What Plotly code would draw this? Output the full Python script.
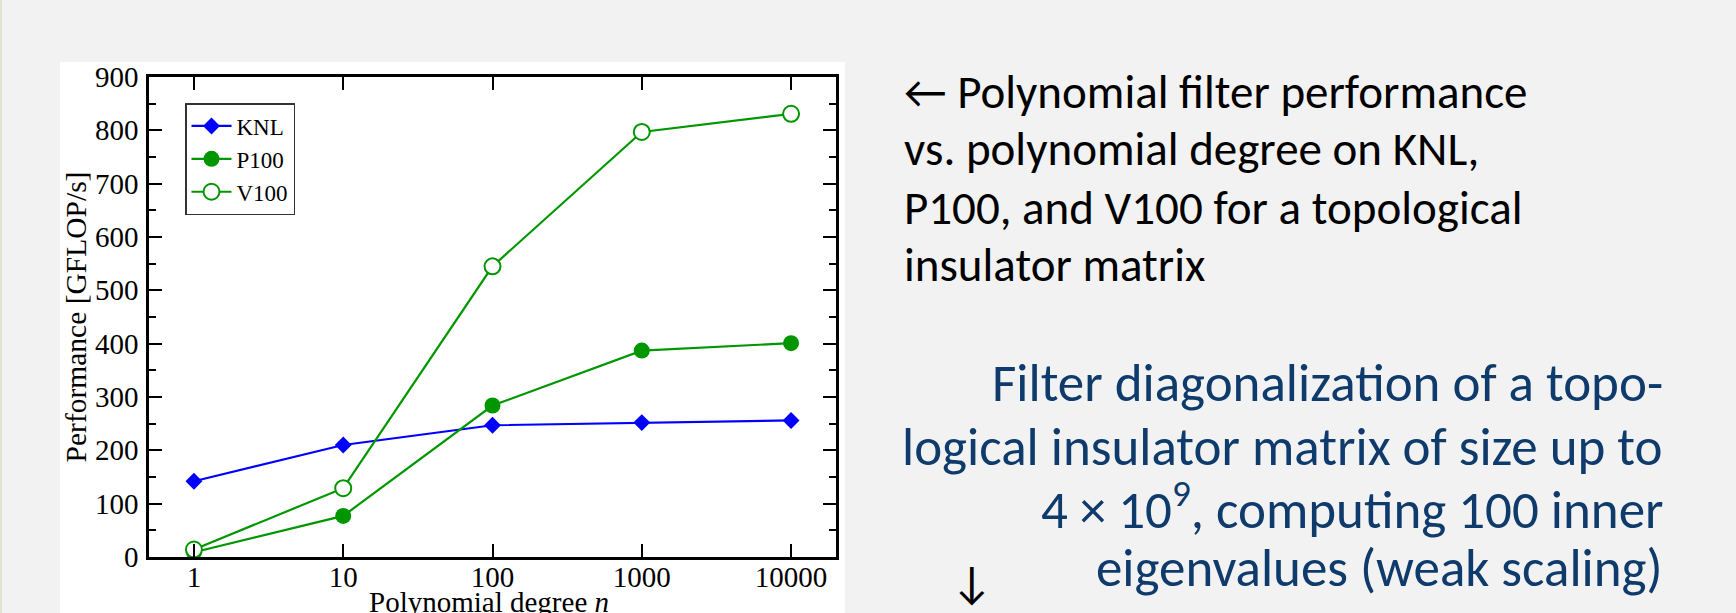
import plotly.graph_objects as go

# ---- data ----
degree = [1, 10, 100, 1000, 10000]
knl = [142, 210, 247, 252, 256]
p100 = [9, 77, 284, 387, 401]
v100 = [14, 129, 545, 797, 831]

x_ticks = [1, 10, 100, 1000, 10000]
x_ticklabels = ["1", "10", "100", "1000", "10000"]
x_title = "Polynomial degree <i>n</i>"
y_title = "Performance [GFLOP/s]"

black_lines = [
    "\u2190 Polynomial filter performance",
    "vs. polynomial degree on KNL,",
    "P100, and V100 for a topological",
    "insulator matrix",
]
blue_lines = [
    "Filter diagonalization of a topo-",
    "logical insulator matrix of size up to",
    "4 \u00d7 10<sup>9</sup>, computing 100 inner",
    "eigenvalues (weak scaling)",
]

# ---- geometry (pixels) ----
W, H = 1736, 613
ML, MR, MT, MB = 149, 900, 77, 56
PW, PH = W - ML - MR, H - MT - MB


def px(x):
    return (x - ML) / PW


def py(y):
    return (H - MB - y) / PH


GREEN = "#009600"
BLUE = "#0000ff"
SERIF = "Liberation Serif, Times New Roman, serif"
SANS = "Carlito, Lato, sans-serif"

fig = go.Figure()
fig.add_trace(go.Scatter(
    x=degree, y=knl, name="KNL", mode="lines+markers",
    line=dict(color=BLUE, width=2.2),
    marker=dict(symbol="diamond", size=13, color=BLUE),
))
fig.add_trace(go.Scatter(
    x=degree, y=p100, name="P100", mode="lines+markers",
    line=dict(color=GREEN, width=2.2),
    marker=dict(symbol="circle", size=16, color=GREEN),
))
fig.add_trace(go.Scatter(
    x=degree, y=v100, name="V100", mode="lines+markers",
    line=dict(color=GREEN, width=2.2),
    marker=dict(symbol="circle", size=16, color="white",
                line=dict(color=GREEN, width=2)),
))

axis_common = dict(
    showline=True, linecolor="black", linewidth=2.5, mirror="ticks",
    ticks="inside", ticklen=13, tickwidth=2, tickcolor="black",
    showgrid=False, zeroline=False,
    tickfont=dict(family=SERIF, size=29, color="black"),
)

fig.update_xaxes(
    type="log", range=[-0.301, 4.301],
    tickvals=x_ticks, ticktext=x_ticklabels,
    ticklabelstandoff=-8,
    **axis_common,
)
fig.update_yaxes(
    range=[0, 900], dtick=100, tick0=0,
    minor=dict(dtick=50, ticks="inside", ticklen=7, tickwidth=2, tickcolor="black"),
    title=dict(text=y_title,
               font=dict(family=SERIF, size=29.5, color="black"), standoff=0),
    ticklabelstandoff=2,
    **axis_common,
)

annotations = [dict(
    text=x_title, xref="paper", yref="paper", x=px(489), y=py(602),
    xanchor="center", yanchor="middle", showarrow=False, borderpad=0,
    font=dict(family=SERIF, size=29, color="black"),
)]
BLACK_SIZE = 47
black_baselines = [110, 167, 226, 283]
for t, b in zip(black_lines, black_baselines):
    annotations.append(dict(
        text=t, xref="paper", yref="paper", x=px(903), y=py(b + 0.25 * BLACK_SIZE),
        xanchor="left", yanchor="bottom", showarrow=False, borderpad=0,
        font=dict(family=SANS, size=BLACK_SIZE, color="black"),
    ))
BLUE_SIZE = 53
blue_baselines = [403, 467, 530, 588]
for t, b in zip(blue_lines, blue_baselines):
    annotations.append(dict(
        text=t, xref="paper", yref="paper", x=px(1664), y=py(b + 0.25 * BLUE_SIZE),
        xanchor="right", yanchor="bottom", showarrow=False, borderpad=0,
        font=dict(family=SANS, size=BLUE_SIZE, color="#0e3b6b"),
    ))
annotations.append(dict(
    text="\u2193", xref="paper", yref="paper", x=px(972), y=py(582),
    xanchor="center", yanchor="middle", showarrow=False, borderpad=0,
    font=dict(family=SANS, size=46, color="black"),
))

shapes = [
    dict(type="rect", xref="paper", yref="paper", layer="below",
         x0=px(60), x1=px(845), y0=py(H + 5), y1=py(62),
         fillcolor="white", line=dict(width=0)),
    dict(type="line", xref="paper", yref="paper",
         x0=px(1), x1=px(1), y0=py(0), y1=py(H),
         line=dict(color="#e6e2d0", width=2)),
]

fig.update_layout(
    width=W, height=H,
    margin=dict(l=ML, r=MR, t=MT, b=MB, autoexpand=False),
    paper_bgcolor="#f2f2f2", plot_bgcolor="white",
    showlegend=True,
    legend=dict(
        x=px(185), y=py(103), xanchor="left", yanchor="top",
        bgcolor="white", bordercolor="#333333", borderwidth=1.5,
        font=dict(family=SERIF, size=23, color="black"),
        tracegroupgap=0, itemwidth=40,
    ),
    annotations=annotations,
    shapes=shapes,
)

fig.write_html(
    "out.html",
    config={"displayModeBar": False},
    post_script="document.body.style.margin='0';document.body.style.overflow='hidden';",
)
